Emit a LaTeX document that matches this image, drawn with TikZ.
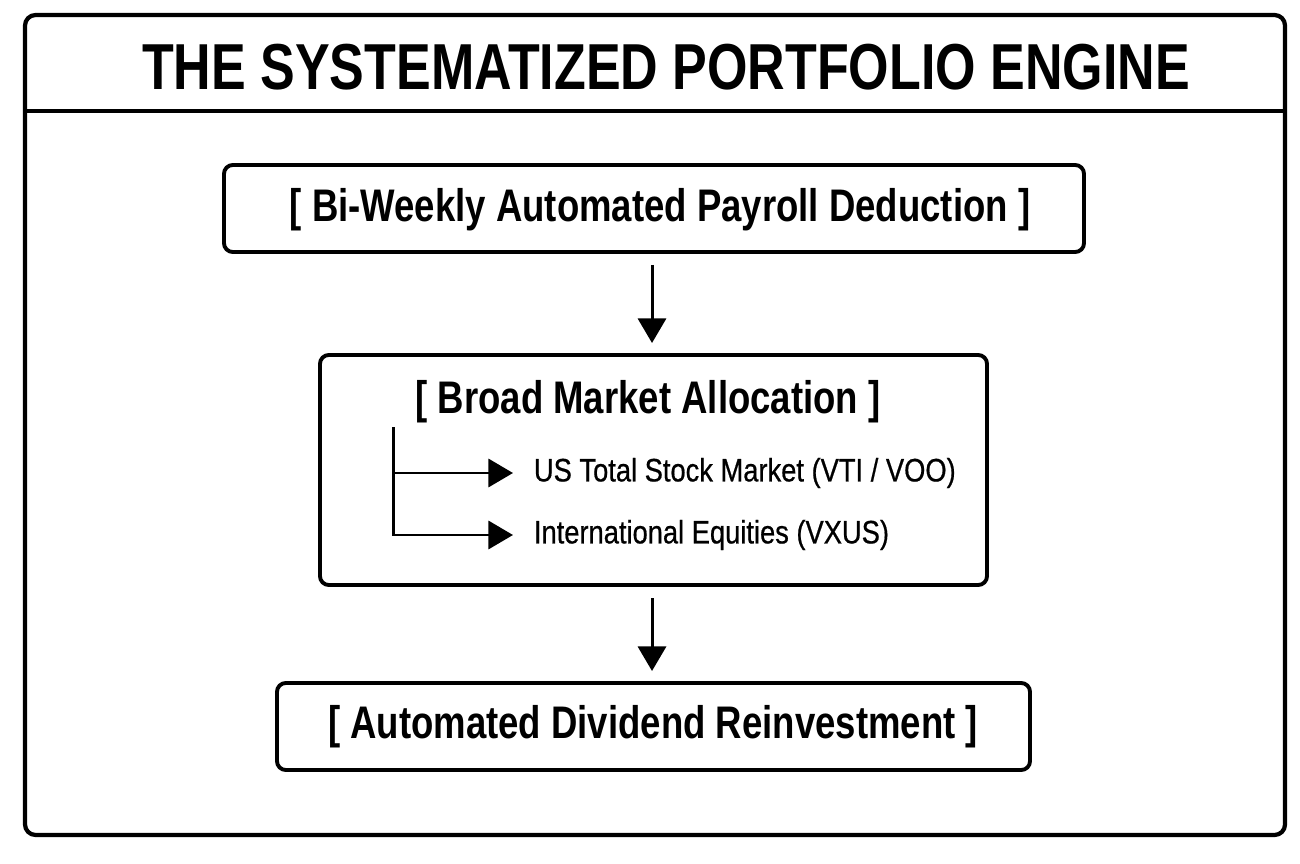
\documentclass[tikz,border=0pt]{standalone}
\usepackage{fontspec}
\setmainfont{Liberation Sans}
\newfontfamily\condfont[FakeStretch=0.8]{Liberation Sans}
\newfontfamily\itemfont[FakeStretch=0.84,FakeBold=0.6]{Liberation Sans}
\usetikzlibrary{positioning,arrows.meta}

\begin{document}
\begin{tikzpicture}[x=0.02cm,y=-0.02cm,line width=2.2pt,
  >={Triangle[length=14pt,width=16pt]},
  stagetxt/.style={font=\condfont\bfseries\fontsize{26}{30}\selectfont,inner sep=0pt},
  item/.style={font=\itemfont\fontsize{18.5}{22}\selectfont,anchor=west,inner ysep=0pt,inner xsep=0.38cm},
  flow/.style={->,line width=1.7pt}]
  \useasboundingbox (0,0) rectangle (1300,864);
  % frame and title
  \draw[rounded corners=6pt,line width=2.4pt] (25,15) rectangle (1285,835);
  \draw[line width=2.4pt] (25,111) -- (1285,111);
  \node[font=\condfont\bfseries\fontsize{37}{40}\selectfont,inner sep=0pt] (title) at (666,67) {THE SYSTEMATIZED PORTFOLIO ENGINE};
  % stages
  \draw[rounded corners=5pt] (224,165) rectangle (1084,252);
  \node[stagetxt] (payroll) at (660,210) {[ Bi-Weekly Automated Payroll Deduction ]};
  \coordinate (payb) at (652,265);
  \draw[rounded corners=5pt] (320,355) rectangle (987,585);
  \node[stagetxt] (alloc) at (648,402) {[ Broad Market Allocation ]};
  \coordinate (allt) at (652,343);
  \coordinate (fork) at (393,427);
  \node[item] (us) at (513,473) {US Total Stock Market (VTI / VOO)};
  \node[item] (intl) at (513,535) {International Equities (VXUS)};
  \coordinate (allb) at (652,598);
  \draw[rounded corners=5pt] (277,683) rectangle (1030,770);
  \node[stagetxt] (divid) at (653,727) {[~Automated Dividend Reinvestment~]};
  \coordinate (divt) at (652,671);
  % connectors
  \draw[flow] (payb) -- (allt);
  \draw[flow] (fork) |- (us.west);
  \draw[flow] (fork) |- (intl.west);
  \draw[flow] (allb) -- (divt);
\end{tikzpicture}
\end{document}
